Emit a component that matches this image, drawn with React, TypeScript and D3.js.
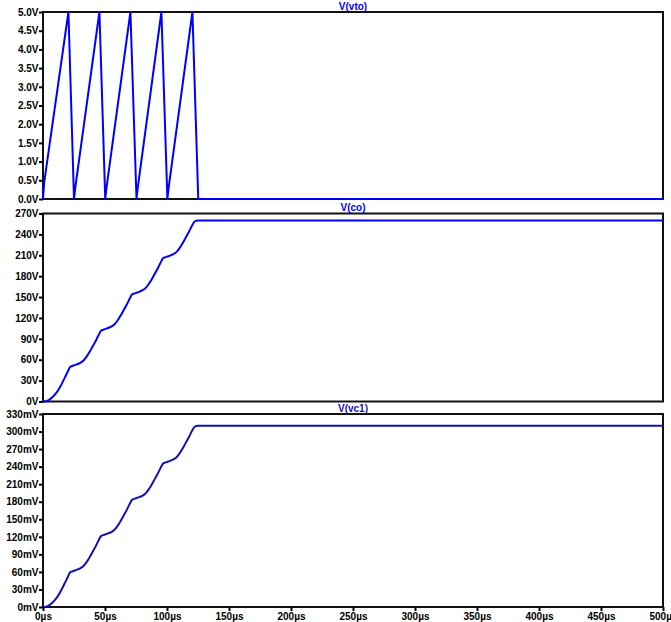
import React, { useEffect, useRef } from 'react';
import * as d3 from 'd3';

// V(vto): sawtooth control voltage (time in µs, volts)
const vtoTime = [0, 1, 20.5, 25, 26, 45.5, 50.2, 51.2, 70.5, 75.4, 76.4, 95.5, 100.3, 101.3, 120.5, 125.2, 500];
const vtoValues = [0, 0.45, 5, 0, 0.3, 5, 0, 0.3, 5, 0, 0.3, 5, 0, 0.3, 5, 0, 0];

// V(co) and V(vc1) share one time base (µs)
const chargeTime = [
  0, 2.5, 5, 7.5, 10, 12.5, 15, 17.5, 20, 22, 23.5,
  25, 27.5, 30, 32.5, 35, 37.5, 40, 42.5, 45, 47, 48.5,
  50, 52.5, 55, 57.5, 60, 62.5, 65, 67.5, 70, 72, 73.5,
  75, 77.5, 80, 82.5, 85, 87.5, 90, 92.5, 95, 97, 98.5,
  100, 102.5, 105, 107.5, 110, 112.5, 115, 117.5, 120, 122, 123.5,
  125, 500,
];
// volts
const coValues = [
  0, 0.5, 2.5, 6, 11, 17, 25, 34, 43, 50, 51,
  52, 53.5, 55.5, 58.5, 64, 71, 79, 87, 96, 102, 103,
  104, 105.5, 107.5, 110.5, 116, 123, 131, 139, 148, 154, 155,
  156, 157.5, 159.5, 162.5, 168, 175, 183, 191, 200, 206, 207,
  208, 209.5, 211.5, 214.5, 220, 227, 235, 243, 252, 258, 259.5,
  260, 260,
];
// millivolts
const vc1Values = [
  0, 0.6, 3.0, 7.2, 13.1, 20.3, 29.8, 40.5, 51.3, 59.6, 60.8,
  62.0, 63.8, 66.2, 69.8, 76.3, 84.7, 94.2, 103.7, 114.5, 121.6, 122.8,
  124.0, 125.8, 128.2, 131.7, 138.3, 146.7, 156.2, 165.7, 176.5, 183.6, 184.8,
  186.0, 187.8, 190.2, 193.7, 200.3, 208.7, 218.2, 227.7, 238.5, 245.6, 246.8,
  248.0, 249.8, 252.2, 255.7, 262.3, 270.7, 280.2, 289.7, 300.5, 307.6, 309.4,
  310, 310,
];

const vtoTicks = [0, 0.5, 1, 1.5, 2, 2.5, 3, 3.5, 4, 4.5, 5];
const vtoTickLabels = ['0.0V', '0.5V', '1.0V', '1.5V', '2.0V', '2.5V', '3.0V', '3.5V', '4.0V', '4.5V', '5.0V'];
const coTicks = [0, 30, 60, 90, 120, 150, 180, 210, 240, 270];
const coTickLabels = ['0V', '30V', '60V', '90V', '120V', '150V', '180V', '210V', '240V', '270V'];
const vc1Ticks = [0, 30, 60, 90, 120, 150, 180, 210, 240, 270, 300, 330];
const vc1TickLabels = ['0mV', '30mV', '60mV', '90mV', '120mV', '150mV', '180mV', '210mV', '240mV', '270mV', '300mV', '330mV'];
const timeTicks = [0, 50, 100, 150, 200, 250, 300, 350, 400, 450, 500];
const timeTickLabels = ['0µs', '50µs', '100µs', '150µs', '200µs', '250µs', '300µs', '350µs', '400µs', '450µs', '500µs'];

const W = 671;
const H = 622;
const left = 43;
const right = 663;
const font = '"Liberation Sans", Arial, sans-serif';

export default function App() {
  const ref = useRef<SVGSVGElement>(null);

  useEffect(() => {
    const svg = d3.select(ref.current);
    svg.selectAll('*').remove();

    const x = d3.scaleLinear().domain([0, 500]).range([left, right]);

    const panes = [
      { title: 'V(vto)', top: 12, bottom: 199, max: 5, ticks: vtoTicks, labels: vtoTickLabels, t: vtoTime, v: vtoValues, color: '#0000ff', curve: d3.curveLinear },
      { title: 'V(co)', top: 213.5, bottom: 401.5, max: 270, ticks: coTicks, labels: coTickLabels, t: chargeTime, v: coValues, color: '#0000ff', curve: d3.curveMonotoneX },
      { title: 'V(vc1)', top: 414, bottom: 607, max: 330, ticks: vc1Ticks, labels: vc1TickLabels, t: chargeTime, v: vc1Values, color: '#1212b0', curve: d3.curveMonotoneX },
    ];

    panes.forEach((p, i) => {
      const y = d3.scaleLinear().domain([0, p.max]).range([p.bottom, p.top]);
      const g = svg.append('g');

      // frame
      g.append('rect')
        .attr('x', left)
        .attr('y', p.top)
        .attr('width', right - left)
        .attr('height', p.bottom - p.top)
        .attr('fill', 'white')
        .attr('stroke', '#111')
        .attr('stroke-width', 2);

      // y axis
      const yAxis = g
        .append('g')
        .attr('transform', `translate(${left},0)`)
        .call(
          d3
            .axisLeft(y)
            .tickValues(p.ticks)
            .tickFormat((_d, j) => p.labels[j])
            .tickSize(4)
            .tickPadding(0.5)
        );
      yAxis.select('.domain').remove();
      yAxis.selectAll('line').attr('stroke', '#000').attr('stroke-width', 2);
      yAxis
        .selectAll('text')
        .attr('fill', '#000')
        .style('font-family', font)
        .style('font-size', '10px')
        .style('font-weight', 'bold');

      // title
      g.append('text')
        .attr('x', (left + right) / 2)
        .attr('y', p.top - 2.5)
        .attr('text-anchor', 'middle')
        .attr('fill', p.color)
        .style('font-family', font)
        .style('font-size', '10px')
        .style('font-weight', 'bold')
        .text(p.title);

      // trace
      const line = d3
        .line<number>()
        .x((_d, j) => x(p.t[j]))
        .y((d) => y(d))
        .curve(p.curve);
      g.append('path')
        .datum(p.v)
        .attr('fill', 'none')
        .attr('stroke', p.color)
        .attr('stroke-width', 2)
        .attr('stroke-linejoin', 'round')
        .attr('d', line);

      // time axis only on the last pane
      if (i === panes.length - 1) {
        const xAxis = g
          .append('g')
          .attr('transform', `translate(0,${p.bottom})`)
          .call(
            d3
              .axisBottom(x)
              .tickValues(timeTicks)
              .tickFormat((_d, j) => timeTickLabels[j])
              .tickSize(4)
              .tickPadding(2)
          );
        xAxis.select('.domain').remove();
        xAxis.selectAll('line').attr('stroke', '#000').attr('stroke-width', 2);
        xAxis
          .selectAll('text')
          .attr('fill', '#000')
          .style('font-family', font)
          .style('font-size', '10px')
          .style('font-weight', 'bold');
      }
    });
  }, []);

  return (
    <svg
      ref={ref}
      width={W}
      height={H}
      style={{ position: 'absolute', left: 0, top: 0, background: 'white' }}
    />
  );
}
